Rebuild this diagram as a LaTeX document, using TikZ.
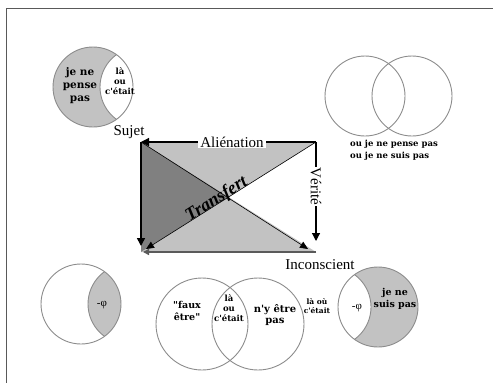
\documentclass[tikz,border=0pt]{standalone}
\usepackage{fontspec}
\setmainfont{Liberation Serif}
\newfontfamily\boldface{DejaVu Serif}
\usetikzlibrary{arrows.meta}
\definecolor{circline}{HTML}{8C8C8C}
\definecolor{lgray}{HTML}{C2C2C2}
\definecolor{dgray}{HTML}{808080}
\tikzset{
  circ/.style={draw=circline, line width=0.9},
  bt/.style={font=\boldface\bfseries\fontsize{9}{10}\selectfont, align=center, inner sep=0},
  lab/.style={font=\fontsize{15}{16}\selectfont, inner sep=1},
  arr/.style={-{Triangle[length=8,width=8]}, line width=1.2},
}
\begin{document}
\begin{tikzpicture}[x=1pt,y=-1pt]
\useasboundingbox (0,0) rectangle (493,383);
% frame
\draw[gray!70!black, line width=1] (6,383) -- (6,8) -- (493,8);

% ---------- central schema ----------
\coordinate (TL) at (141,142);
\coordinate (TR) at (316,142);
\coordinate (BL) at (141,252);
\coordinate (BR) at (316,252);
\coordinate (C) at (228.5,197);
\fill[lgray] (TL) -- (TR) -- (C) -- cycle;
\fill[lgray] (BL) -- (BR) -- (C) -- cycle;
\fill[dgray] (TL) -- (BL) -- (C) -- cycle;

\coordinate (Lend) at (141,246);
\coordinate (Rend) at (316,241);
\coordinate (D1end) at (308,249);
\coordinate (D2end) at (146,249);
\coordinate (Bend) at (143,252);

\draw[arr] (TR) -- node[lab, fill=white, inner xsep=2, pos=0.48] (alien) {Aliénation} (TL);
\draw[arr] (TR) -- node[lab, fill=white, rotate=-90, pos=0.45] (verite) {Vérité} (Rend);
\draw[arr, line width=1.5] (TL) -- (Lend);
\draw[-{Triangle[length=8,width=7]}, line width=0.6] (TL) -- (D1end);
\draw[-{Triangle[length=8,width=7]}, line width=0.6] (TR) -- (D2end);
\draw[-{Triangle[length=6,width=6]}, line width=2, dgray!70!black] (BR) -- (Bend);

\node[font=\itshape\bfseries\fontsize{18}{19}\selectfont, rotate=32.3, inner sep=0, anchor=base] (transfert) at (219,203) {Transfert};
\node[lab, anchor=base] (sujet) at (129,135) {Sujet};
\node[lab, anchor=base] (incons) at (320,269) {Inconscient};

% ---------- top-left circle ----------
\fill[lgray] (93,87) circle (40);
\begin{scope}
  \clip (93,87) circle (40);
  \fill[white] (140,87) circle (40);
  \draw[circ] (140,87) circle (40);
\end{scope}
\draw[circ] (93,87) circle (40);
\node[bt, font=\boldface\bfseries\fontsize{10.5}{13}\selectfont] (jnpp) at (80,86) {je ne\\pense\\pas};
\node[bt, font=\boldface\bfseries\fontsize{8.5}{10}\selectfont] (laou1) at (120,81) {là\\ou\\c'était};

% ---------- top-right venn ----------
\draw[circ] (365,96) circle (40);
\draw[circ] (412,96) circle (40);
\node[bt, align=left, font=\boldface\bfseries\fontsize{8.5}{12}\selectfont] (oujne) at (394,150) {ou je ne pense pas\\ou je ne suis pas};

% ---------- bottom-left circle ----------
\begin{scope}
  \clip (81,304) circle (40);
  \fill[lgray] (128,304) circle (40);
  \draw[circ] (128,304) circle (40);
\end{scope}
\draw[circ] (81,304) circle (40);
\node[inner sep=0, font=\fontsize{11}{12}\selectfont] (phi1) at (102,305) {-φ};

% ---------- bottom-middle venn ----------
\draw[circ] (202,324) circle (46);
\draw[circ] (258,324) circle (46);
\node[bt, font=\boldface\bfseries\fontsize{9.5}{12}\selectfont] (faux) at (187,311) {"faux\\être"};
\node[bt, font=\boldface\bfseries\fontsize{8.5}{10}\selectfont] (laou2) at (229,308) {là\\ou\\c'était};
\node[bt, font=\boldface\bfseries\fontsize{10}{11.5}\selectfont] (nyetre) at (275,315) {n'y être\\pas};
\node[bt, font=\boldface\bfseries\fontsize{7.5}{9.5}\selectfont] (laou3) at (317,306) {là où\\c'était};

% ---------- bottom-right circle ----------
\fill[lgray] (378,307) circle (40);
\begin{scope}
  \clip (378,307) circle (40);
  \fill[white] (331,307) circle (40);
  \draw[circ] (331,307) circle (40);
\end{scope}
\draw[circ] (378,307) circle (40);
\node[inner sep=0, font=\fontsize{11}{12}\selectfont] (phi2) at (357,308) {-φ};
\node[bt, font=\boldface\bfseries\fontsize{9.5}{12}\selectfont] (jnsp) at (395,299) {je ne\\suis pas};
\end{tikzpicture}
\end{document}
